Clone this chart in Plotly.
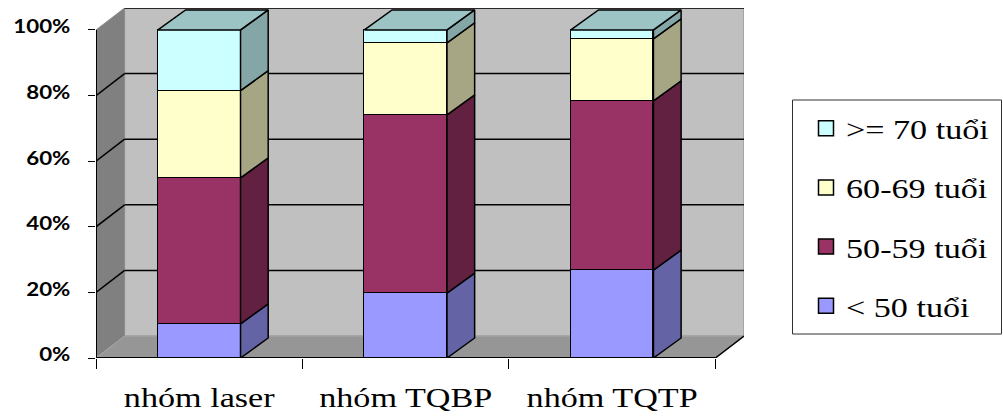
import plotly.graph_objects as go

# ---- data -------------------------------------------------------------
categories = ["nhóm laser", "nhóm TQBP", "nhóm TQTP"]
series_names = ["< 50 tuổi", "50-59 tuổi", "60-69 tuổi", ">= 70 tuổi"]
under_50 = [10.4, 19.8, 26.8]
age_50_59 = [44.5, 54.3, 51.6]
age_60_69 = [26.6, 22.0, 18.9]
age_70_plus = [18.5, 3.9, 2.7]
y_tick_values = [0, 20, 40, 60, 80, 100]
y_tick_labels = ["0%", "20%", "40%", "60%", "80%", "100%"]

series_values = [under_50, age_50_59, age_60_69, age_70_plus]

# ---- style ------------------------------------------------------------
front_colors = ["#9999FF", "#993366", "#FFFFCC", "#CCFFFF"]


def shade(hex_color, k):
    r, g, b = (int(hex_color[i:i + 2], 16) for i in (1, 3, 5))
    return "rgb(%d,%d,%d)" % (round(r * k), round(g * k), round(b * k))


side_colors = [shade(c, 0.65) for c in front_colors]
top_colors = [shade(c, 0.77) for c in front_colors]

W, H = 1003, 416
ML, MR, MT, MB = 96, 259, 8, 58
PW, PH = W - ML - MR, H - MT - MB

N = len(categories)
X_POS = [i + 0.5 for i in range(N)]
BAR_W = 0.40
WALL_DX, WALL_DY = 0.1386, 6.7      # depth of the 3-D box (x units, y units)
BAR_DX, BAR_DY = 0.134, 6.1         # depth of each column
X_MAX = N + WALL_DX
Y_MAX = 100 + WALL_DY

SERIF = "Liberation Serif"
SANS_BOLD = "Lato"
EDGE = dict(color="black", width=1.5)


def paper_x(px):
    return (px - ML) / PW


def paper_y(py):
    return (H - MB - py) / PH


# ---- 3-D box: walls, floor, gridlines --------------------------------
shapes = [
    dict(type="path", layer="below", line=dict(color="#8a8a8a", width=1),
         fillcolor="#808080",
         path=f"M0,0 L{WALL_DX},{WALL_DY} L{WALL_DX},{Y_MAX} L0,100 Z"),
    dict(type="rect", layer="below", line=dict(color="#8a8a8a", width=1),
         fillcolor="#C0C0C0",
         x0=WALL_DX, x1=X_MAX, y0=WALL_DY, y1=Y_MAX),
    dict(type="path", layer="below", line=dict(color="#a8a8a8", width=1),
         fillcolor="#969696",
         path=f"M0,0 L{N},0 L{X_MAX},{WALL_DY} L{WALL_DX},{WALL_DY} Z"),
]
for v in y_tick_values[1:]:
    if v < 100:
        shapes.append(dict(type="line", layer="below", line=EDGE,
                           x0=0, y0=v, x1=WALL_DX, y1=v + WALL_DY))
    shapes.append(dict(type="line", layer="below", line=EDGE,
                       x0=WALL_DX, y0=v + WALL_DY, x1=X_MAX, y1=v + WALL_DY))
# front edges of the box
shapes += [
    dict(type="line", layer="below", line=dict(color="black", width=2),
         x0=0, y0=0, x1=0, y1=100),
    dict(type="line", layer="below", line=dict(color="black", width=2),
         x0=0, y0=0, x1=N, y1=0),
    dict(type="line", layer="below", line=EDGE,
         x0=N, y0=0, x1=X_MAX, y1=WALL_DY),
]
# legend frame
shapes.append(dict(type="rect", xref="paper", yref="paper",
                   x0=paper_x(792.5), x1=paper_x(1001.5),
                   y0=paper_y(334), y1=paper_y(100),
                   line=dict(color="#303030", width=1)))

fig = go.Figure()

# ---- front faces of the stacked columns ------------------------------
for name, vals, col in zip(series_names, series_values, front_colors):
    fig.add_trace(go.Bar(x=X_POS, y=vals, width=BAR_W, name=name,
                         marker=dict(color=col, line=EDGE),
                         showlegend=False, hoverinfo="skip"))

# ---- side and top faces ----------------------------------------------
for i, xc in enumerate(X_POS):
    xl, xr = xc - BAR_W / 2, xc + BAR_W / 2
    base = 0.0
    for k, vals in enumerate(series_values):
        y0, y1 = base, base + vals[i]
        fig.add_trace(go.Scatter(
            x=[xr, xr + BAR_DX, xr + BAR_DX, xr, xr],
            y=[y0, y0 + BAR_DY, y1 + BAR_DY, y1, y0],
            mode="lines", fill="toself", fillcolor=side_colors[k],
            line=EDGE, showlegend=False, hoverinfo="skip"))
        base = y1
    top_k = len(series_values) - 1
    fig.add_trace(go.Scatter(
        x=[xl, xr, xr + BAR_DX, xl + BAR_DX, xl],
        y=[base, base, base + BAR_DY, base + BAR_DY, base],
        mode="lines", fill="toself", fillcolor=top_colors[top_k],
        line=EDGE, showlegend=False, hoverinfo="skip"))

# ---- legend entries (top series first) --------------------------------
for name, col in reversed(list(zip(series_names, front_colors))):
    fig.add_trace(go.Scatter(
        x=[None], y=[None], mode="markers", name=name, legendgroup=name,
        marker=dict(symbol="square", size=15, color=col,
                    line=dict(color="black", width=1.5))))

fig.update_layout(
    width=W, height=H,
    margin=dict(l=ML, r=MR, t=MT, b=MB, autoexpand=False),
    paper_bgcolor="white", plot_bgcolor="white",
    barmode="stack", bargap=0,
    shapes=shapes,
    showlegend=True,
    legend=dict(x=paper_x(806), y=paper_y(103.5), xanchor="left", yanchor="top",
                bgcolor="rgba(0,0,0,0)", borderwidth=0,
                font=dict(family=SERIF, size=28, color="black"),
                tracegroupgap=19.8, itemclick=False, itemdoubleclick=False),
    xaxis=dict(range=[0, X_MAX], tickmode="array", tickvals=X_POS,
               ticktext=categories, ticks="", showgrid=False,
               zeroline=False, showline=False, fixedrange=True,
               tickfont=dict(family=SERIF, size=28, color="black"),
               ticklabelstandoff=20,
               minor=dict(tickmode="array", tickvals=list(range(N + 1)),
                          ticks="outside", ticklen=10, tickwidth=1,
                          tickcolor="black", showgrid=False)),
    yaxis=dict(range=[0, Y_MAX], tickmode="array", tickvals=y_tick_values,
               ticktext=y_tick_labels, ticks="outside", ticklen=7,
               tickwidth=1, tickcolor="black", showgrid=False,
               zeroline=False, showline=False, fixedrange=True,
               tickfont=dict(family=SANS_BOLD, size=18, color="black",
                             weight="bold"),
               ticklabelstandoff=14, ticklabelshift=-3),
)

# widen the labels horizontally about their anchor point
stretch_js = """
var gd = document.getElementById('{plot_id}');
gd.querySelectorAll('.legend .scrollbox').forEach(function (e) {
  e.removeAttribute('clip-path');
});
[['.xtick text', 1.22], ['.ytick text', 1.24], ['.legendtext', 1.22]].forEach(function (r) {
  gd.querySelectorAll(r[0]).forEach(function (t) {
    var x = parseFloat(t.getAttribute('x')) || 0;
    var tr = t.getAttribute('transform') || '';
    t.setAttribute('transform', tr + ' translate(' + x + ' 0) scale(' + r[1] + ' 1) translate(' + (-x) + ' 0)');
  });
});
"""

fig.write_html("out.html", config={"displayModeBar": False},
               post_script=stretch_js)
